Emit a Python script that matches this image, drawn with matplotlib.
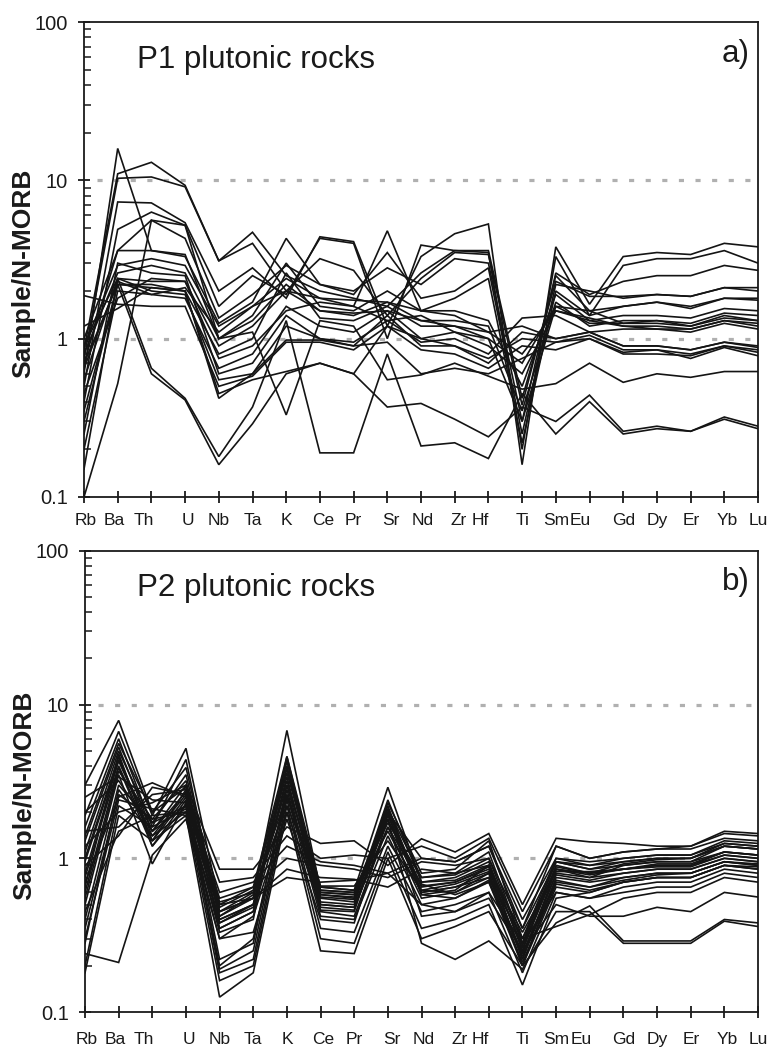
import numpy as np
import matplotlib
matplotlib.use("Agg")
import matplotlib.pyplot as plt
from matplotlib.ticker import FixedLocator, LogLocator, NullFormatter
from matplotlib.transforms import ScaledTranslation

plt.rcParams["font.family"] = ["Liberation Sans", "DejaVu Sans"]

# Element order on the x axis
elements = ["Rb", "Ba", "Th", "U", "Nb", "Ta", "K", "Ce", "Pr", "Sr", "Nd",
            "Zr", "Hf", "Ti", "Sm", "Eu", "Gd", "Dy", "Er", "Yb", "Lu"]

# ---- P1 plutonic rocks, N-MORB normalised ----
p1_s01 = [0.85, 11.0, 13.0, 9.3, 3.1, 4.7, 2.5, 2.0, 1.8, 1.6, 2.6, 3.6, 3.6, 0.42, 2.3, 1.85, 1.85, 1.9, 1.85, 2.1, 2.0]
p1_s02 = [0.75, 10.3, 10.5, 9.1, 3.1, 4.0, 2.0, 3.2, 2.7, 1.4, 2.4, 3.5, 3.4, 0.38, 2.5, 1.5, 1.6, 1.7, 1.6, 1.8, 1.75]
p1_s03 = [0.60, 15.9, 3.6, 3.4, 1.0, 1.3, 2.2, 1.5, 1.45, 1.5, 1.3, 1.2, 1.1, 1.20, 1.0, 1.1, 0.90, 0.90, 0.85, 0.95, 0.88]
p1_s04 = [0.50, 7.3, 7.2, 5.4, 2.0, 2.8, 1.8, 4.4, 4.1, 1.2, 3.3, 4.6, 5.3, 0.16, 3.8, 1.65, 3.3, 3.5, 3.4, 4.0, 3.8]
p1_s05 = [0.40, 4.9, 6.3, 5.2, 1.6, 2.5, 1.9, 4.3, 4.0, 1.0, 3.9, 3.6, 3.5, 0.20, 3.3, 1.40, 2.9, 3.2, 3.2, 3.6, 3.0]
p1_s06 = [0.70, 3.6, 5.6, 4.3, 1.35, 1.9, 2.9, 2.2, 2.0, 2.8, 2.2, 3.2, 3.0, 0.30, 2.6, 1.90, 2.3, 2.5, 2.5, 2.9, 2.7]
p1_s07 = [1.00, 3.6, 3.6, 3.3, 1.25, 1.7, 4.3, 2.2, 1.9, 3.5, 1.8, 2.0, 2.8, 0.25, 2.2, 2.00, 1.8, 1.9, 1.85, 2.1, 2.1]
p1_s08 = [0.90, 2.9, 3.2, 2.9, 1.20, 1.6, 2.4, 1.8, 1.6, 4.8, 1.5, 1.8, 2.4, 0.22, 2.0, 1.40, 1.6, 1.7, 1.55, 1.8, 1.8]
p1_s09 = [0.80, 2.6, 2.9, 2.6, 1.00, 1.4, 3.0, 1.6, 1.5, 2.0, 1.5, 1.5, 1.3, 0.50, 1.9, 1.30, 1.4, 1.4, 1.35, 1.55, 1.5]
p1_s10 = [0.55, 2.4, 2.3, 2.3, 0.90, 1.2, 2.0, 1.5, 1.4, 1.7, 1.3, 1.3, 1.2, 0.35, 1.7, 1.20, 1.3, 1.3, 1.25, 1.45, 1.4]
p1_s11 = [0.30, 2.2, 2.1, 2.0, 0.80, 1.0, 2.6, 1.35, 1.3, 1.6, 1.2, 1.2, 1.0, 0.30, 1.6, 1.25, 1.25, 1.25, 1.2, 1.4, 1.3]
p1_s12 = [0.20, 2.0, 1.9, 1.8, 0.65, 0.8, 1.6, 1.2, 1.1, 1.5, 1.0, 1.1, 0.9, 0.60, 1.5, 1.30, 1.2, 1.2, 1.15, 1.3, 1.2]
p1_s13 = [0.25, 3.0, 2.6, 2.5, 0.60, 0.7, 1.4, 1.0, 0.95, 1.3, 0.95, 1.0, 0.8, 1.35, 1.4, 1.10, 1.15, 1.15, 1.1, 1.25, 1.15]
p1_s14 = [0.15, 2.4, 2.0, 1.9, 0.55, 0.6, 1.2, 1.0, 0.9, 1.4, 0.9, 0.9, 0.7, 1.10, 1.0, 1.10, 0.90, 0.90, 0.85, 0.95, 0.9]
p1_s15 = [1.87, 1.65, 1.6, 1.6, 0.50, 0.58, 0.95, 0.95, 0.85, 1.2, 1.0, 0.9, 0.75, 1.00, 0.95, 1.05, 0.85, 0.85, 0.8, 0.9, 0.85]
p1_s16 = [1.20, 1.55, 2.1, 2.0, 0.45, 0.55, 0.62, 0.70, 0.60, 1.2, 0.85, 0.8, 0.65, 0.90, 0.85, 1.00, 0.80, 0.80, 0.78, 0.9, 0.82]
p1_s17 = [0.35, 2.2, 2.2, 2.0, 0.42, 0.6, 0.98, 0.98, 0.90, 0.95, 0.6, 0.65, 0.6, 0.75, 0.95, 1.00, 0.82, 0.85, 0.75, 0.88, 0.78]
p1_s18 = [0.90, 2.4, 0.65, 0.42, 0.18, 0.37, 1.3, 0.19, 0.19, 0.8, 0.21, 0.22, 0.175, 0.45, 0.25, 0.40, 0.25, 0.27, 0.26, 0.31, 0.27]
p1_s19 = [0.70, 2.2, 0.60, 0.41, 0.16, 0.29, 0.6, 0.70, 0.60, 0.37, 0.39, 0.31, 0.24, 0.37, 0.30, 0.44, 0.26, 0.28, 0.26, 0.32, 0.28]
p1_s20 = [0.10, 0.52, 5.6, 5.2, 1.0, 1.1, 0.33, 1.3, 1.2, 0.55, 0.59, 0.7, 0.58, 0.48, 0.52, 0.70, 0.53, 0.60, 0.57, 0.62, 0.62]
p1_s21 = [0.45, 1.8, 2.4, 2.3, 0.75, 0.9, 1.5, 1.7, 1.6, 1.3, 1.4, 1.1, 1.0, 0.70, 1.6, 1.50, 1.25, 1.3, 1.2, 1.35, 1.3]
p1_s22 = [0.65, 2.3, 1.9, 2.1, 1.1, 1.6, 2.0, 1.8, 1.75, 1.7, 1.5, 1.4, 1.1, 0.80, 1.5, 1.35, 1.2, 1.15, 1.15, 1.3, 1.25]

p1_samples = [p1_s01, p1_s02, p1_s03, p1_s04, p1_s05, p1_s06, p1_s07, p1_s08,
              p1_s09, p1_s10, p1_s11, p1_s12, p1_s13, p1_s14, p1_s15, p1_s16,
              p1_s17, p1_s18, p1_s19, p1_s20, p1_s21, p1_s22]

# ---- P2 plutonic rocks, N-MORB normalised ----
p2_s01 = [3.0, 7.9, 2.0, 3.9, 0.45, 0.55, 6.8, 0.62, 0.60, 2.1, 0.75, 0.80, 1.10, 0.28, 0.95, 0.85, 0.90, 0.95, 0.95, 1.10, 1.05]
p2_s02 = [1.9, 6.7, 1.9, 5.2, 0.50, 0.65, 4.6, 0.65, 0.62, 2.9, 0.70, 0.75, 0.95, 0.25, 0.90, 0.80, 0.85, 0.90, 0.90, 1.05, 1.00]
p2_s03 = [1.6, 6.0, 1.6, 4.4, 0.40, 0.50, 4.3, 0.55, 0.52, 2.3, 0.80, 0.85, 1.30, 0.30, 1.00, 0.90, 1.00, 1.05, 1.05, 1.25, 1.20]
p2_s04 = [1.3, 5.3, 1.5, 3.0, 0.35, 0.45, 4.0, 0.50, 0.48, 2.0, 1.00, 0.95, 1.20, 0.35, 1.20, 1.00, 1.10, 1.15, 1.15, 1.35, 1.30]
p2_s05 = [1.0, 4.6, 1.3, 2.8, 0.42, 0.55, 3.6, 0.60, 0.58, 1.9, 0.65, 0.70, 0.85, 0.22, 0.80, 0.75, 0.80, 0.85, 0.85, 1.00, 0.95]
p2_s06 = [0.8, 4.3, 1.4, 2.6, 0.38, 0.50, 3.2, 0.58, 0.55, 1.8, 0.60, 0.65, 0.80, 0.20, 0.75, 0.70, 0.75, 0.80, 0.80, 0.95, 0.90]
p2_s07 = [0.6, 3.9, 1.2, 2.4, 0.20, 0.30, 2.8, 0.45, 0.42, 1.6, 0.55, 0.60, 0.75, 0.23, 0.70, 0.65, 0.75, 0.80, 0.80, 0.95, 0.90]
p2_s08 = [0.5, 3.5, 0.92, 2.3, 0.19, 0.25, 2.6, 0.42, 0.40, 1.4, 0.50, 0.55, 0.70, 0.20, 0.65, 0.60, 0.70, 0.75, 0.75, 0.90, 0.85]
p2_s09 = [0.4, 3.0, 1.7, 2.2, 0.18, 0.22, 2.4, 0.35, 0.33, 1.2, 0.45, 0.50, 0.60, 0.18, 0.60, 0.55, 0.65, 0.70, 0.70, 0.85, 0.80]
p2_s10 = [0.35, 2.6, 1.8, 2.0, 0.16, 0.20, 2.2, 0.30, 0.28, 1.1, 0.35, 0.40, 0.50, 0.15, 0.55, 0.60, 0.70, 0.75, 0.75, 0.90, 0.85]
p2_s11 = [0.30, 2.4, 2.1, 1.9, 0.125, 0.18, 2.0, 0.25, 0.24, 1.0, 0.30, 0.36, 0.45, 0.20, 0.38, 0.49, 0.29, 0.29, 0.29, 0.40, 0.38]
p2_s12 = [0.24, 0.21, 1.05, 1.8, 0.30, 0.33, 1.8, 0.40, 0.38, 1.8, 0.28, 0.22, 0.29, 0.19, 0.45, 0.45, 0.28, 0.28, 0.28, 0.39, 0.36]
p2_s13 = [1.2, 2.0, 2.3, 3.0, 0.85, 0.85, 1.6, 1.25, 1.30, 0.9, 1.34, 1.10, 1.45, 0.50, 1.35, 1.28, 1.25, 1.20, 1.20, 1.50, 1.45]
p2_s14 = [1.5, 1.6, 2.6, 2.8, 0.70, 0.75, 1.4, 1.00, 1.05, 1.0, 1.20, 1.00, 1.35, 0.45, 1.20, 1.00, 1.10, 1.15, 1.20, 1.45, 1.40]
p2_s15 = [0.9, 1.4, 2.9, 2.6, 0.60, 0.70, 1.2, 0.95, 0.90, 0.8, 1.00, 0.95, 1.20, 0.40, 1.00, 0.95, 1.00, 1.05, 1.05, 1.30, 1.25]
p2_s16 = [0.7, 2.5, 3.1, 2.5, 0.55, 0.65, 1.0, 0.90, 0.85, 0.75, 0.95, 0.90, 1.00, 0.35, 0.95, 0.85, 0.95, 1.00, 1.00, 1.25, 1.20]
p2_s17 = [2.0, 3.2, 1.5, 2.2, 0.50, 0.55, 0.85, 0.75, 0.73, 0.65, 0.85, 0.80, 0.90, 0.30, 0.85, 0.75, 0.90, 0.95, 0.95, 1.20, 1.15]
p2_s18 = [0.45, 1.5, 1.9, 2.0, 0.45, 0.55, 0.75, 0.70, 0.72, 0.80, 0.50, 0.45, 0.60, 0.28, 0.60, 0.55, 0.60, 0.65, 0.65, 0.80, 0.75]
p2_s19 = [0.20, 2.2, 1.6, 2.1, 0.35, 0.45, 2.5, 0.60, 0.58, 2.0, 0.42, 0.45, 0.55, 0.25, 0.50, 0.42, 0.42, 0.48, 0.45, 0.60, 0.56]
p2_s20 = [0.18, 1.9, 1.3, 1.9, 0.40, 0.50, 3.0, 0.62, 0.60, 1.5, 0.60, 0.65, 0.75, 0.30, 0.36, 0.43, 0.55, 0.60, 0.60, 0.75, 0.70]
p2_s21 = [1.1, 5.0, 1.7, 3.5, 0.45, 0.60, 4.4, 0.52, 0.50, 2.2, 0.58, 0.62, 0.90, 0.26, 0.85, 0.80, 0.85, 0.90, 0.90, 1.10, 1.05]
p2_s22 = [0.75, 4.0, 1.3, 2.5, 0.38, 0.48, 3.4, 0.48, 0.46, 1.9, 0.62, 0.60, 0.80, 0.24, 0.78, 0.72, 0.80, 0.85, 0.85, 1.00, 0.95]
p2_s23 = [0.55, 3.7, 1.8, 3.2, 0.42, 0.58, 2.6, 0.56, 0.54, 2.4, 0.70, 0.72, 0.90, 0.22, 0.85, 0.78, 0.85, 0.92, 0.92, 1.10, 1.05]
p2_s24 = [1.4, 5.6, 2.0, 2.9, 0.48, 0.62, 3.8, 0.65, 0.62, 1.7, 0.75, 0.78, 1.00, 0.28, 0.95, 0.90, 0.95, 1.00, 1.00, 1.20, 1.15]
p2_s25 = [0.95, 4.4, 1.5, 2.7, 0.22, 0.28, 3.0, 0.46, 0.45, 2.1, 0.58, 0.55, 0.72, 0.21, 0.68, 0.62, 0.70, 0.75, 0.75, 0.90, 0.88]
p2_s26 = [2.5, 3.4, 2.4, 2.3, 0.52, 0.60, 2.2, 0.66, 0.66, 1.3, 0.62, 0.68, 0.82, 0.33, 0.82, 0.82, 0.85, 0.88, 0.88, 1.05, 1.00]
p2_s27 = [0.28, 2.8, 1.4, 2.0, 0.30, 0.42, 2.0, 0.50, 0.48, 1.6, 0.68, 0.58, 0.70, 0.24, 0.72, 0.65, 0.72, 0.78, 0.80, 0.95, 0.92]
p2_s28 = [0.65, 4.8, 1.2, 2.2, 0.33, 0.40, 4.6, 0.58, 0.56, 2.0, 0.66, 0.70, 0.88, 0.27, 0.88, 0.80, 0.92, 0.98, 1.00, 1.20, 1.15]

p2_samples = [p2_s01, p2_s02, p2_s03, p2_s04, p2_s05, p2_s06, p2_s07, p2_s08,
              p2_s09, p2_s10, p2_s11, p2_s12, p2_s13, p2_s14, p2_s15, p2_s16,
              p2_s17, p2_s18, p2_s19, p2_s20, p2_s21, p2_s22, p2_s23, p2_s24,
              p2_s25, p2_s26, p2_s27, p2_s28]

y_ticks = [0.1, 1, 10, 100]
y_tick_labels = ["0.1", "1", "10", "100"]

# horizontal nudges (pixels) of the element labels under their ticks
label_shift_px = [2, -3, -8, 3, 0, 0, 0, 3, 0, 4, 2, 4, -8, 0, 0, -9, 0, 0, 1, 3, 0]

fig = plt.figure(figsize=(7.7, 10.5), dpi=100)
ax_a = fig.add_axes([84 / 770, 1 - 497 / 1050, 674 / 770, 475 / 1050])
ax_b = fig.add_axes([85 / 770, 1 - 1012 / 1050, 673 / 770, 461 / 1050])


def draw_panel(ax, samples, title, tag, one_line_end, xlabel_pad):
    x = np.arange(len(elements))
    ref_style = dict(color="#b0b0b0", lw=2.3, linestyle=(0, (1.6, 3.6)),
                     dash_capstyle="butt", zorder=1)
    ax.plot([0.4, 19.85], [10, 10], **ref_style)
    ax.plot([0.4, one_line_end], [1, 1], **ref_style)
    for s in samples:
        ax.plot(x, s, color="#141414", lw=1.2, solid_joinstyle="miter", zorder=3)

    ax.set_yscale("log")
    ax.set_ylim(0.1, 100)
    ax.set_xlim(0, len(elements) - 1)

    ax.yaxis.set_major_locator(FixedLocator(y_ticks))
    ax.set_yticklabels(y_tick_labels)
    ax.yaxis.set_minor_locator(LogLocator(base=10, subs=np.arange(2, 10)))
    ax.yaxis.set_minor_formatter(NullFormatter())
    ax.tick_params(axis="y", which="major", direction="inout", length=9,
                   width=1.3, labelsize=14.5, pad=7, colors="#1a1a1a")
    ax.tick_params(axis="y", which="minor", direction="in", length=5, width=1.1,
                   colors="#1a1a1a")

    ax.set_xticks(x)
    ax.set_xticklabels(elements)
    ax.tick_params(axis="x", which="major", direction="inout", length=9,
                   width=1.3, labelsize=12.5, pad=xlabel_pad, colors="#1a1a1a")
    for lab, dx in zip(ax.get_xticklabels(), label_shift_px):
        lab.set_transform(lab.get_transform() +
                          ScaledTranslation(dx / 100, 0, fig.dpi_scale_trans))

    for sp in ax.spines.values():
        sp.set_linewidth(1.3)
        sp.set_color("#1a1a1a")

    ax.set_ylabel("Sample/N-MORB", fontsize=19, fontweight="bold",
                  color="#1a1a1a")
    ax.yaxis.set_label_coords(-0.073, 0.471)
    ax.text(0.078, 0.903, title, transform=ax.transAxes, fontsize=22.5,
            ha="left", va="baseline", color="#1a1a1a")
    ax.text(0.988, 0.916, tag, transform=ax.transAxes, fontsize=22.5,
            ha="right", va="baseline", color="#1a1a1a")


draw_panel(ax_a, p1_samples, "P1 plutonic rocks", "a)", 19.85, 7)
draw_panel(ax_b, p2_samples, "P2 plutonic rocks", "b)", 17.9, 10)

fig.savefig("out.png", dpi=100, facecolor="white")
